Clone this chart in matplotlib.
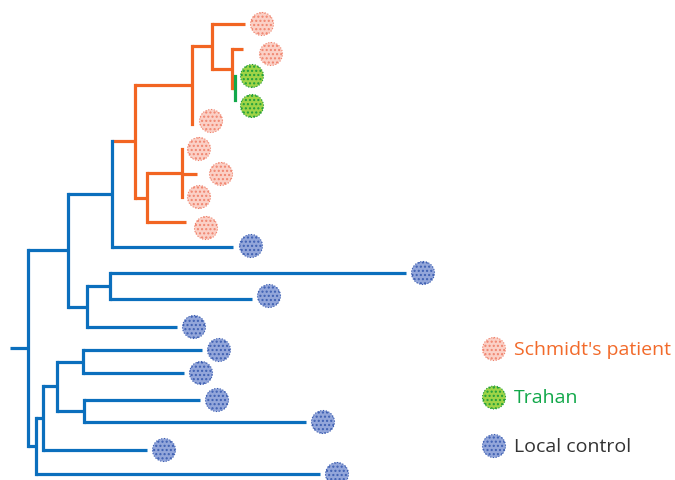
import matplotlib
matplotlib.use('Agg')
import matplotlib.pyplot as plt
from matplotlib.patches import Circle

# tree: node, parent, branch length, clade colour group
nodes = ['R', 'A', 'B', 'C', 'D', 'E', 'F', 'G', 'H', 'I', 'J', 'K', 'M', 'P', 'Q', 'S', 'T',
         'c1', 'o1', 'o2', 'g1', 'g2', 'o5', 'o6', 'o7', 'o8', 'o9',
         'c2', 'c3', 'c4', 'c5', 'c6', 'c7', 'c8', 'c9', 'c10']
parents = [None, 'R', 'R', 'A', 'A', 'C', 'E', 'E', 'F', 'H', 'I', 'G', 'D', 'B', 'P', 'Q', 'Q',
           'C', 'H', 'I', 'J', 'J', 'F', 'K', 'K', 'K', 'G',
           'M', 'M', 'D', 'S', 'S', 'T', 'T', 'P', 'B']
branch_len = [18, 40, 8, 44, 19, 23, 57, 12, 20, 20, 3, 35, 23, 7, 14, 26, 27,
              121, 33, 11, 0, 0, 0, 0, 15, 0, 39,
              296, 142, 90, 119, 101, 116, 222, 104, 284]
clade = ['ctl', 'ctl', 'ctl', 'ctl', 'ctl', 'sch', 'sch', 'sch', 'sch', 'sch', 'tra', 'sch', 'ctl',
         'ctl', 'ctl', 'ctl', 'ctl',
         'ctl', 'sch', 'sch', 'tra', 'tra', 'sch', 'sch', 'sch', 'sch', 'sch',
         'ctl', 'ctl', 'ctl', 'ctl', 'ctl', 'ctl', 'ctl', 'ctl', 'ctl']
# vertical position of each tip
leaf_y = {'o1': 25, 'o2': 50, 'g1': 77, 'g2': 101, 'o5': 125, 'o6': 150, 'o7': 175,
          'o8': 198, 'o9': 223, 'c1': 248, 'c2': 274, 'c3': 300, 'c4': 328, 'c5': 351,
          'c6': 374, 'c7': 401, 'c8': 423, 'c9': 451, 'c10': 475}

legend_labels = ["Schmidt's patient", 'Trahan', 'Local control']
legend_keys = ['sch', 'tra', 'ctl']

line_col = {'ctl': '#0b6fbd', 'sch': '#f26522', 'tra': '#12a84a'}
fill_col = {'ctl': '#93a6da', 'sch': '#fbd0c6', 'tra': '#9fd447'}
dot_col = {'ctl': '#3d5fb2', 'sch': '#f0846e', 'tra': '#1f9e3c'}
text_col = {'ctl': '#333333', 'sch': '#f26a2a', 'tra': '#12a84a'}

root_x = 10
tip_gap = 17
# small nudges of tip symbols as drawn in the original figure
nudge = {'o2': (11, 5), 'g2': (0, 6), 'o5': (2, -3), 'o7': (7, 0), 'o9': (3, 6), 'c1': (1, -1),
         'c3': (0, -3)}

children = {n: [] for n in nodes}
for n, p in zip(nodes, parents):
    if p is not None:
        children[p].append(n)
bl = dict(zip(nodes, branch_len))
grp = dict(zip(nodes, clade))
par = dict(zip(nodes, parents))

xpos = {}
def set_x(n, base):
    xpos[n] = base + bl[n]
    for c in children[n]:
        set_x(c, xpos[n])
set_x('R', root_x)

ypos = {}
def get_y(n):
    if n in leaf_y:
        ypos[n] = leaf_y[n]
    else:
        ys = [get_y(c) for c in children[n]]
        ypos[n] = (min(ys) + max(ys)) / 2
    return ypos[n]
get_y('R')

plt.rcParams['hatch.linewidth'] = 1.0
fig = plt.figure(figsize=(6.75, 4.81), dpi=100)
ax = fig.add_axes([0, 0, 1, 1])
ax.set_xlim(0, 675)
ax.set_ylim(481, 0)
ax.axis('off')

lw = 2.3
# horizontal branches
for n in nodes:
    x0 = xpos[par[n]] if par[n] else root_x
    if xpos[n] > x0:
        ax.plot([x0, xpos[n]], [ypos[n], ypos[n]], color=line_col[grp[n]], lw=lw,
                solid_capstyle='butt')
# vertical connectors
for n in nodes:
    if children[n]:
        ys = [ypos[c] for c in children[n]]
        ax.plot([xpos[n], xpos[n]], [min(ys), max(ys)], color=line_col[grp[n]], lw=lw,
                solid_capstyle='projecting')

def dot(x, y, g):
    ax.add_patch(Circle((x, y), 11.5, facecolor=fill_col[g], edgecolor=dot_col[g],
                        lw=0.8, ls=(0, (1, 1.5)), hatch='....', zorder=3))

for n, y in leaf_y.items():
    dx, dy = nudge.get(n, (0, 0))
    dot(xpos[n] + tip_gap + dx, y + dy, grp[n])

for i, (lab, k) in enumerate(zip(legend_labels, legend_keys)):
    ly = 350 + i * 48.5
    dot(494, ly, k)
    ax.text(514, ly, lab, color=text_col[k], fontsize=14, family='Open Sans',
            va='center', ha='left')

fig.savefig('out.png', dpi=100)
